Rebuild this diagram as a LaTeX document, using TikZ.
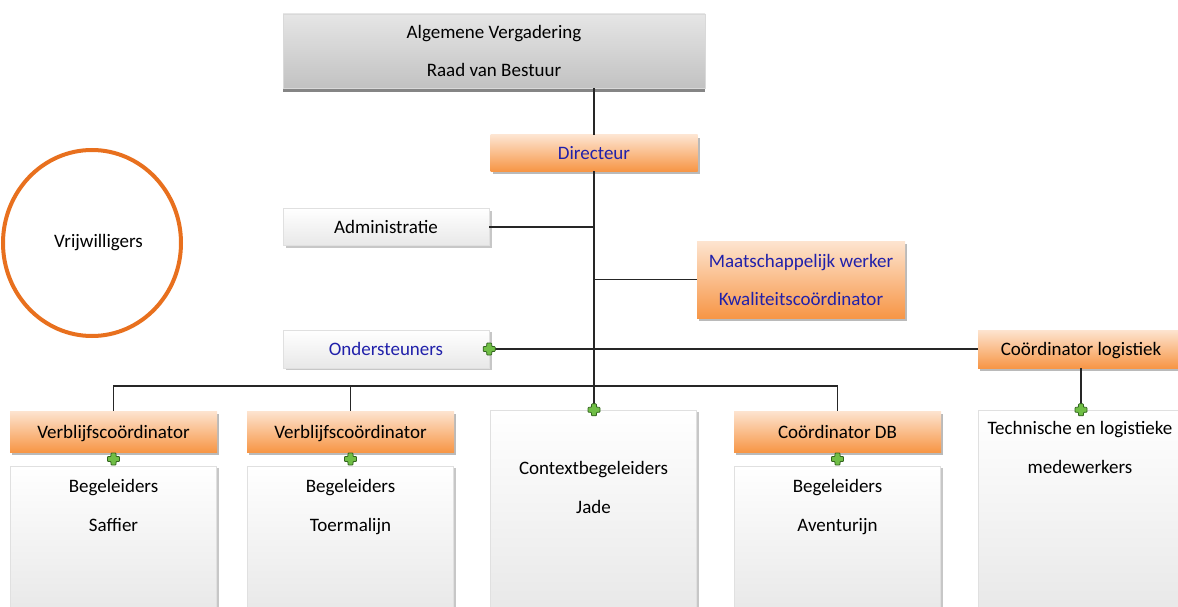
\documentclass[tikz,border=0pt]{standalone}
\usepackage{fontspec}
\setmainfont{Carlito}
\usetikzlibrary{shadows,shapes.geometric,calc}
\definecolor{lnblue}{RGB}{32,32,170}
\definecolor{orlight}{RGB}{253,228,208}
\definecolor{ordark}{RGB}{247,150,70}
\definecolor{circcol}{RGB}{232,112,30}
\definecolor{plusfill}{RGB}{112,190,70}
\definecolor{plusline}{RGB}{50,100,30}
\tikzset{
  basebox/.style={inner sep=0pt, font=\fontsize{19}{38}\selectfont, align=center},
  single/.style={text height=15pt, text depth=2pt},
  orangebox/.style={basebox, top color=orlight, bottom color=ordark,
    minimum width=207, minimum height=40,
    drop shadow={shadow xshift=2pt,shadow yshift=-3pt,fill=black!45,opacity=.6}},
  whitebox/.style={basebox, top color=white, bottom color=black!9, draw=black!12,
    minimum width=206,
    drop shadow={shadow xshift=2.5pt,shadow yshift=-2pt,fill=black!40,opacity=.55}},
  graybox/.style={basebox, top color=black!10, bottom color=black!24, draw=black!15,
    drop shadow={shadow xshift=0pt,shadow yshift=-4pt,fill=black!60,opacity=.8}},
  txt/.style={inner sep=0pt, font=\fontsize{19}{39}\selectfont, align=center},
  conn/.style={draw=black!85, line width=1.3pt},
  greenplus/.pic={\draw[fill=plusfill, draw=plusline, line width=0.8pt, rounded corners=0.8pt]
     (-2.5,-6)--(2.5,-6)--(2.5,-2.5)--(6,-2.5)--(6,2.5)--(2.5,2.5)--(2.5,6)--(-2.5,6)
     --(-2.5,2.5)--(-6,2.5)--(-6,-2.5)--(-2.5,-2.5)--cycle;}
}
\begin{document}
\begin{tikzpicture}[x=1pt,y=-1pt]
\useasboundingbox (0,0) rectangle (1178,607);
% nodes
\node[graybox, minimum width=422, minimum height=74] (top) at (494,51) {Algemene Vergadering\\Raad van Bestuur};
\node[orangebox, single, minimum height=36, text=lnblue] (dir) at (594,153) {Directeur};
\node[whitebox, single, minimum height=37] (adm) at (386,227) {Administratie};
\node[orangebox, minimum width=208, minimum height=77, text=lnblue] (maat) at (801,279.5) {Maatschappelijk werker\\Kwaliteitscoördinator};
\node[whitebox, single, minimum height=38, text=lnblue] (ond) at (386,349) {Ondersteuners};
\node[orangebox, single, minimum width=206, minimum height=38] (log) at (1081,349) {Coördinator logistiek};
\node[draw=circcol, line width=4pt, ellipse, minimum width=178, minimum height=186, font=\fontsize{19}{22}\selectfont] (vrij) at (92,243) {\hspace*{13pt}Vrijwilligers};

\node[orangebox, single, minimum height=41] (v1) at (113.5,431.5) {Verblijfscoördinator};
\node[orangebox, single, minimum height=41] (v2) at (350.5,431.5) {Verblijfscoördinator};
\node[orangebox, single, minimum height=41] (db) at (837.5,431.5) {Coördinator DB};

\node[whitebox, minimum height=146] (saf) at (113.5,539) {};
\node[whitebox, minimum height=146] (toe) at (350.5,539) {};
\node[whitebox, minimum height=202] (jade) at (593.5,511) {};
\node[whitebox, minimum height=146] (ave) at (837.5,539) {};
\node[whitebox, minimum height=202] (tech) at (1081,511) {};

\node[txt] (safT) at (113.5,507.5) {Begeleiders\\Saffier\vphantom{gj}};
\node[txt] (toeT) at (350.5,507.5) {Begeleiders\\Toermalijn\vphantom{gj}};
\node[txt] (jadeT) at (593.5,489.5) {Contextbegeleiders\\Jade\vphantom{gj}};
\node[txt] (aveT) at (837.5,507.5) {Begeleiders\\Aventurijn\vphantom{gj}};
\node[txt] (techT) at (1080,449.5) {Technische en logistieke\\medewerkers\vphantom{gj}};

% connectors
\draw[conn] (top.south -| dir.north) -- (dir.north);
\draw[conn] (dir.south) -- (dir.south |- jade.north);
\draw[conn] (adm.east) -- (adm.east -| dir.south);
\draw[conn] (maat.west) -- (maat.west -| dir.south);
\draw[conn] (ond.east) -- (log.west);
\draw[conn] (log.south) -- (tech.north);
\coordinate (bus) at (595,386);
\draw[conn] (v1.north) -- (v1.north |- bus) -- (db.north |- bus) -- (db.north);
\draw[conn] (v2.north) -- (v2.north |- bus);

% plus marks
\pic at (ond.east) {greenplus};
\pic at (dir.south |- jade.north) {greenplus};
\pic at (tech.north) {greenplus};
\pic at ($(v1.south)!.5!(saf.north)$) {greenplus};
\pic at ($(v2.south)!.5!(toe.north)$) {greenplus};
\pic at ($(db.south)!.5!(ave.north)$) {greenplus};
\end{tikzpicture}
\end{document}
